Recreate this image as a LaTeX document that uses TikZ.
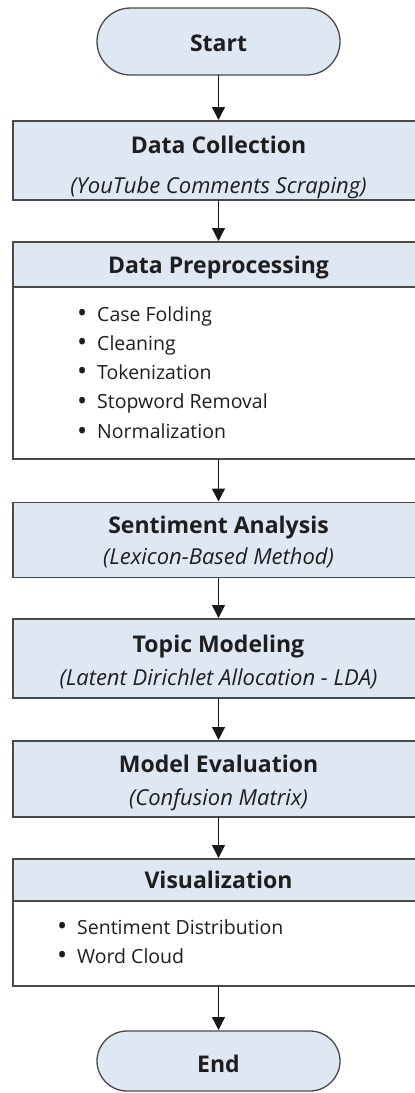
\documentclass[tikz,border=0pt]{standalone}
\usepackage{fontspec}
\setmainfont{Open Sans}
\usetikzlibrary{arrows.meta,shapes.misc}
\definecolor{boxfill}{HTML}{DFE7F3}
\definecolor{edgecol}{HTML}{4A4A4A}
\definecolor{txt}{HTML}{1E1E1E}
\tikzset{
  box/.style={draw=edgecol, line width=1.3pt, fill=boxfill, inner sep=0pt, outer sep=0pt, minimum width=411pt},
  bodybox/.style={box, fill=white},
  pill/.style={rounded rectangle, draw=edgecol, line width=1.3pt, fill=boxfill, inner sep=0pt, outer sep=0pt, minimum width=243pt, minimum height=67pt},
  ttl/.style={anchor=base, text=txt, font=\fontsize{23}{27}\selectfont\bfseries},
  sub/.style={anchor=base, text=txt, font=\fontsize{22}{26}\selectfont\itshape},
  item/.style={anchor=base west, text=txt, font=\fontsize{19.5}{23}\selectfont, inner sep=0pt},
  arr/.style={-{Triangle[width=13pt,length=13pt]}, line width=1.3pt, draw=black!90, shorten >=1pt}
}
\newcommand{\bul}{\makebox[20pt][l]{\raisebox{-1.8pt}{\fontsize{27}{27}\selectfont •}}}
\begin{document}
\begin{tikzpicture}[x=1pt,y=-1pt]
\useasboundingbox (0,0) rectangle (415,1093);
\clip (0,0) rectangle (415,1093);
% Start
\node[pill] (start) at (218.5,41.5) {};
\node[ttl] (startt) at (218.5,51) {Start};
% Data Collection
\node[box, minimum height=79pt] (dc) at (218.5,160.5) {};
\node[ttl] (dct) at (218.5,153) {Data Collection};
\node[sub] (dcs) at (218.5,193) {(YouTube Comments Scraping)};
% Data Preprocessing
\node[box, minimum height=45pt] (dph) at (218.5,264.5) {};
\node[bodybox, minimum height=172pt] (dpb) at (218.5,373) {};
\node[ttl] (dpt) at (218.5,273) {Data Preprocessing};
\node[item] (dp1) at (77,321) {\bul Case Folding};
\node[item] (dp2) at (77,350) {\bul Cleaning};
\node[item] (dp3) at (77,379) {\bul Tokenization};
\node[item] (dp4) at (77,408.5) {\bul Stopword Removal};
\node[item] (dp5) at (77,438.5) {\bul Normalization};
% Sentiment Analysis
\node[box, minimum height=75pt] (sa) at (218.5,540) {};
\node[ttl] (sat) at (218.5,533) {Sentiment Analysis};
\node[sub] (sas) at (218.5,564) {(Lexicon-Based Method)};
% Topic Modeling
\node[box, minimum height=79pt] (tm) at (218.5,658.5) {};
\node[ttl] (tmt) at (218.5,652) {Topic Modeling};
\node[sub] (tms) at (218.5,685) {(Latent Dirichlet Allocation - LDA)};
% Model Evaluation
\node[box, minimum height=76pt] (me) at (218.5,779) {};
\node[ttl] (met) at (218.5,772) {Model Evaluation};
\node[sub] (mes) at (218.5,805) {(Confusion Matrix)};
% Visualization
\node[box, minimum height=42pt] (vh) at (218.5,880) {};
\node[bodybox, minimum height=85pt] (vb) at (218.5,943.5) {};
\node[ttl] (vt) at (218.5,888) {Visualization};
\node[item] (v1) at (57,934) {\bul Sentiment Distribution};
\node[item] (v2) at (57,963) {\bul Word Cloud};
% End
\node[pill, minimum height=60pt] (end) at (218.5,1061) {};
\node[ttl] (endt) at (218.5,1072) {End};
% Arrows
\draw[arr] (start.south) -- (dc.north);
\draw[arr] (dc.south) -- (dph.north);
\draw[arr] (dpb.south) -- (sa.north);
\draw[arr] (sa.south) -- (tm.north);
\draw[arr] (tm.south) -- (me.north);
\draw[arr] (me.south) -- (vh.north);
\draw[arr] (vb.south) -- (end.north);
\end{tikzpicture}
\end{document}
